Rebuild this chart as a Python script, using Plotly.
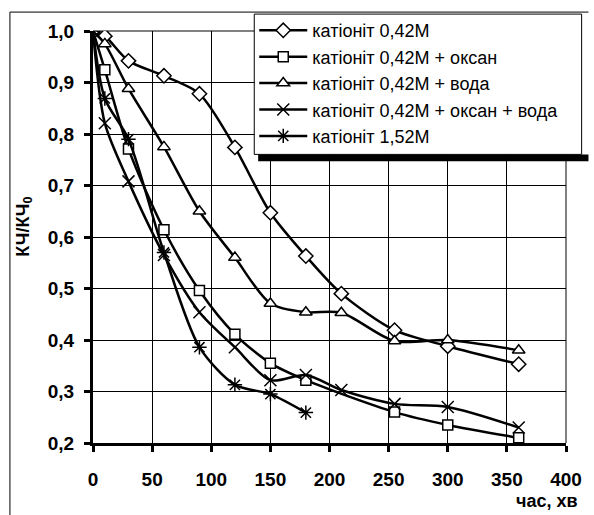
import plotly.graph_objects as go

# Data
time_min = [0, 10, 30, 60, 90, 120, 150, 180, 210, 255, 300, 360]
s1_name = "катіоніт 0,42М"
s1_y = [1.0, 0.99, 0.942, 0.913, 0.878, 0.774, 0.647, 0.563, 0.490, 0.419, 0.388, 0.353]
s2_name = "катіоніт 0,42М + оксан"
s2_x = [0, 10, 30, 60, 90, 120, 150, 180, 255, 300, 360]
s2_y = [1.0, 0.925, 0.771, 0.614, 0.496, 0.411, 0.355, 0.322, 0.260, 0.235, 0.210]
s3_name = "катіоніт 0,42М + вода"
s3_y = [1.0, 0.975, 0.888, 0.775, 0.650, 0.560, 0.471, 0.454, 0.453, 0.398, 0.400, 0.380]
s4_name = "катіоніт 0,42М + оксан + вода"
s4_y = [1.0, 0.821, 0.708, 0.565, 0.454, 0.386, 0.322, 0.332, 0.303, 0.276, 0.270, 0.230]
s5_name = "катіоніт 1,52М"
s5_x = [0, 10, 30, 60, 90, 120, 150, 180]
s5_y = [1.0, 0.869, 0.790, 0.570, 0.386, 0.313, 0.295, 0.259]

x_ticks = [0, 50, 100, 150, 200, 250, 300, 350, 400]
y_ticks = [0.2, 0.3, 0.4, 0.5, 0.6, 0.7, 0.8, 0.9, 1.0]

W, H = 594, 515
ML, MR, MT, MB = 93, 17, 29, 72
PW, PH = W - ML - MR, H - MT - MB

def px(xp):
    return (xp - ML) / PW

def py(yp):
    return (H - MB - yp) / PH

series = [
    (s1_name, time_min, s1_y, "diamond", 11, "white"),
    (s2_name, s2_x, s2_y, "square", 10, "white"),
    (s3_name, time_min, s3_y, "triangle-up", 11, "white"),
    (s4_name, time_min, s4_y, "x-thin-open", 12, None),
    (s5_name, s5_x, s5_y, "asterisk-open", 12, None),
]

fig = go.Figure()
for name, xs, ys, sym, size, fill in series:
    marker = dict(symbol=sym, size=size, line=dict(color="black", width=1.5))
    marker["color"] = fill if fill else "black"
    fig.add_trace(go.Scatter(
        x=xs, y=ys, name=name, mode="lines+markers",
        line=dict(color="black", width=2.5, shape="spline", smoothing=0.8),
        marker=marker,
    ))

font_family = "Liberation Sans, Arial, sans-serif"

fig.update_layout(
    width=W, height=H,
    margin=dict(l=ML, r=MR, t=MT, b=MB),
    paper_bgcolor="white", plot_bgcolor="white",
    separators=", ",
    font=dict(family=font_family, color="black"),
    showlegend=True,
    legend=dict(
        x=px(258), y=py(10), xanchor="left", yanchor="top",
        bgcolor="rgba(0,0,0,0)", borderwidth=0,
        font=dict(size=18, family=font_family, color="black"),
        tracegroupgap=0, itemwidth=48,
    ),
    xaxis=dict(
        range=[0, 400], tickvals=x_ticks,
        showgrid=True, gridcolor="black", gridwidth=1,
        showline=True, linecolor="black", linewidth=3,
        ticks="outside", ticklen=6, tickwidth=2.5, tickcolor="black",
        tickfont=dict(size=19, family=font_family, color="black", weight="bold"),
        ticklabelstandoff=11,
        zeroline=False, fixedrange=True,
    ),
    yaxis=dict(
        range=[0.2, 1.0], tickvals=y_ticks, tickformat=".1f",
        showgrid=True, gridcolor="black", gridwidth=1,
        showline=True, linecolor="black", linewidth=3,
        ticks="outside", ticklen=6, tickwidth=2.5, tickcolor="black",
        tickfont=dict(size=19, family=font_family, color="black", weight="bold"),
        ticklabelstandoff=6,
        zeroline=False, fixedrange=True,
    ),
    shapes=[
        # outer chart frame
        dict(type="line", xref="paper", yref="paper", x0=px(8), x1=px(8), y0=py(10), y1=py(520),
             line=dict(color="black", width=1)),
        dict(type="line", xref="paper", yref="paper", x0=px(8), x1=px(600), y0=py(10), y1=py(10),
             line=dict(color="black", width=1)),
        # plot area top/right border (gray)
        dict(type="line", xref="paper", yref="paper", x0=0, x1=1, y0=1, y1=1,
             line=dict(color="#808080", width=2), layer="below"),
        dict(type="line", xref="paper", yref="paper", x0=1, x1=1, y0=0, y1=1,
             line=dict(color="#808080", width=2), layer="below"),
        # legend shadow
        dict(type="rect", xref="paper", yref="paper", x0=px(262), x1=px(600), y0=py(160), y1=py(153),
             fillcolor="black", line=dict(width=0), layer="above"),
        # legend box
        dict(type="rect", xref="paper", yref="paper", x0=px(258), x1=px(593), y0=py(153), y1=py(12),
             fillcolor="white", line=dict(color="black", width=1), layer="above"),
    ],
    annotations=[
        dict(text="<b>час, хв</b>", xref="paper", yref="paper", x=px(591), y=py(501),
             xanchor="right", yanchor="middle", showarrow=False,
             font=dict(size=18, family=font_family, color="black")),
        dict(text="<b>КЧ/КЧ<sub>0</sub></b>", xref="paper", yref="paper", x=px(22), y=py(226),
             xanchor="center", yanchor="middle", showarrow=False, textangle=-90,
             font=dict(size=18, family=font_family, color="black")),
    ],
)

fig.write_html("out.html")
